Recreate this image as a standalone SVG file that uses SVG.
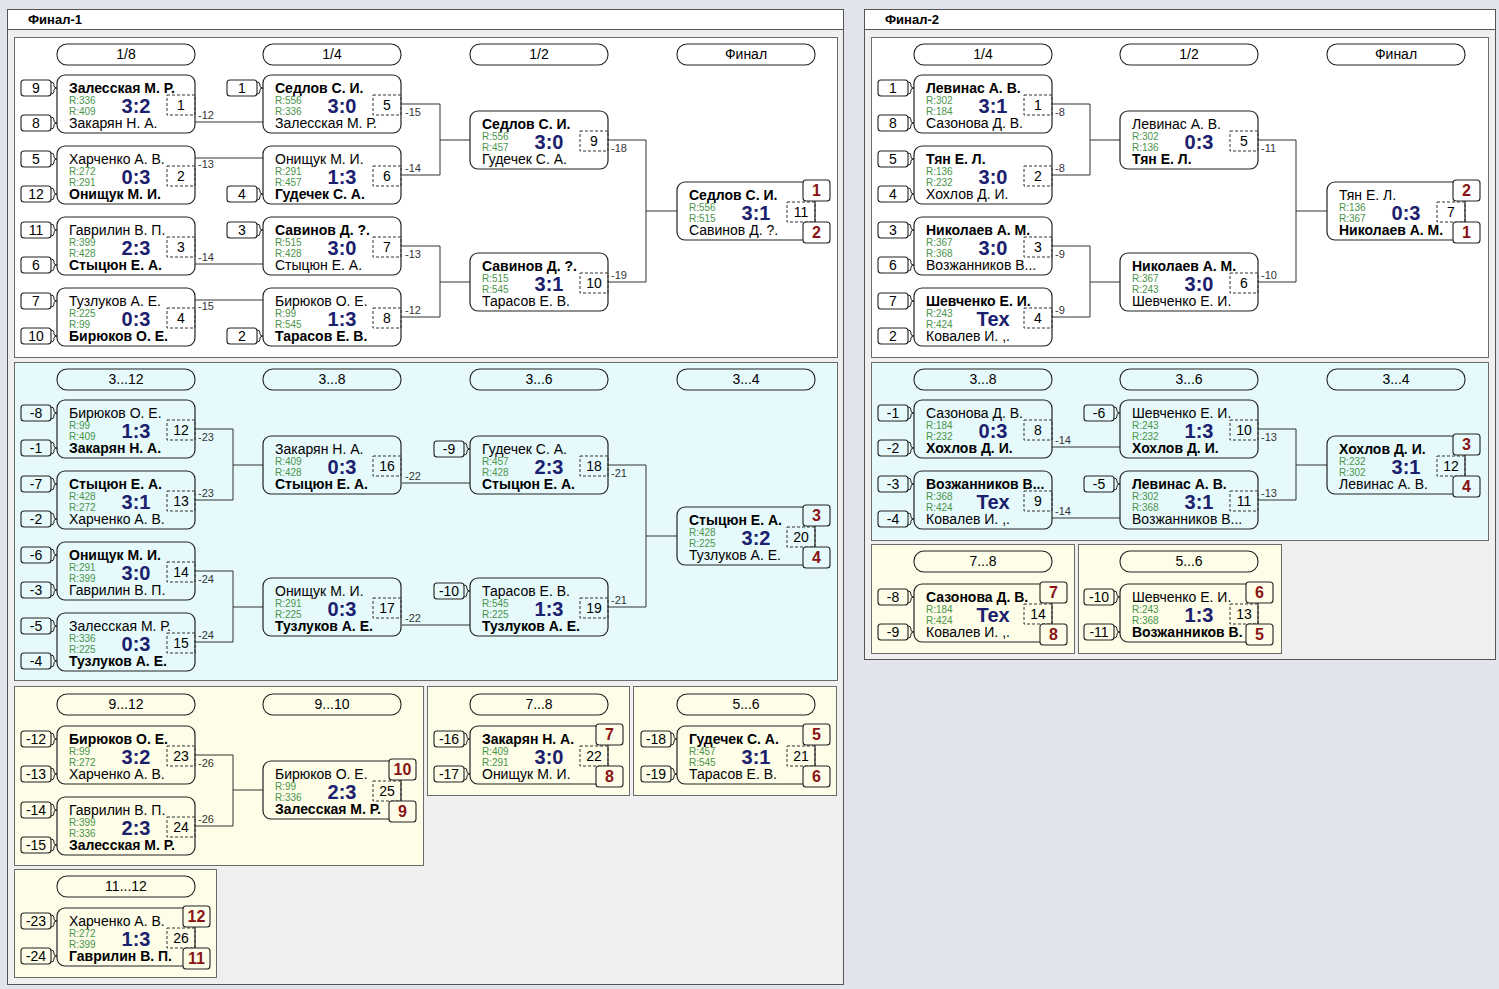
<svg xmlns="http://www.w3.org/2000/svg" width="1499" height="989" viewBox="0 0 1499 989">
<style>
text{font-family:"Liberation Sans",Arial,sans-serif}
.pan{fill:#efefef;stroke:#555;stroke-width:1}
.tb{fill:#fff;stroke:#555;stroke-width:1}
.tt{font-size:13px;font-weight:bold;fill:#000}
.sw{fill:#fff;stroke:#6b6b6b;stroke-width:1}
.sc{fill:#e6fafc;stroke:#6b6b6b;stroke-width:1}
.sy{fill:#fdfde8;stroke:#6b6b6b;stroke-width:1}
.hd{fill:none;stroke:#222;stroke-width:1.1}
.ht{font-size:14px;fill:#000;text-anchor:middle}
.mb{fill:none;stroke:#222;stroke-width:1.2}
.ds{fill:none;stroke:#333;stroke-width:1;stroke-dasharray:3 2}
.sb{fill:none;stroke:#222;stroke-width:1.1}
.br{fill:none;stroke:#222;stroke-width:1}
.a{font-size:14px;fill:#000}
.b{font-size:14px;font-weight:bold;fill:#000}
.r{font-size:10px;fill:#4a944a}
.s{font-size:20px;font-weight:bold;fill:#1b206e;text-anchor:middle}
.n{font-size:14px;fill:#000;text-anchor:middle}
.pw{fill:#fff;stroke:#222;stroke-width:1.1}
.pc{fill:#e6fafc;stroke:#222;stroke-width:1.1}
.py{fill:#fdfde8;stroke:#222;stroke-width:1.1}
.pl{font-size:16px;font-weight:bold;fill:#8a1414;text-anchor:middle}
.ln{fill:none;stroke:#333;stroke-width:1}
.lb{font-size:11px;fill:#333}
</style>
<defs>
<path id="brT" class="br" d="M-6,7 q3,0 3,3 v1 q0,2 3,2 q-3,0 -3,2 v1 q0,3 -3,3"/>
<path id="brB" class="br" d="M-6,42 q3,0 3,3 v1 q0,2 3,2 q-3,0 -3,2 v1 q0,3 -3,3"/>
<rect id="sbT" class="sb" x="-36" y="5" width="30" height="16" rx="3"/>
<rect id="sbB" class="sb" x="-36" y="40" width="30" height="16" rx="3"/>
<rect id="box" class="mb" width="138" height="58" rx="8"/>
<rect id="dsb" class="ds" x="110" y="20" width="28" height="20"/>
</defs>
<rect width="1499" height="989" fill="#e1e4ea"/>

<g id="panel1">
<rect class="pan" x="7.5" y="9.5" width="836" height="975"/>
<rect class="tb" x="7.5" y="9.5" width="836" height="20"/>
<text class="tt" x="28" y="24">Финал-1</text>
<rect class="sw" x="14.5" y="37.5" width="823" height="320"/>
<rect class="sc" x="14.5" y="362.5" width="823" height="318"/>
<rect class="sy" x="14.5" y="686.5" width="409" height="179"/>
<rect class="sy" x="427.5" y="686.5" width="202" height="109"/>
<rect class="sy" x="633.5" y="686.5" width="203" height="109"/>
<rect class="sy" x="14.5" y="869.5" width="202" height="108"/>
</g>
<g id="panel2">
<rect class="pan" x="864.5" y="9.5" width="631" height="650"/>
<rect class="tb" x="864.5" y="9.5" width="631" height="20"/>
<text class="tt" x="885" y="24">Финал-2</text>
<rect class="sw" x="871.5" y="37.5" width="617" height="320"/>
<rect class="sc" x="871.5" y="362.5" width="617" height="178"/>
<rect class="sy" x="871.5" y="544.5" width="203" height="109"/>
<rect class="sy" x="1078.5" y="544.5" width="203" height="109"/>
</g>

<g id="headers">
<rect class="hd" x="57" y="44" width="138" height="21" rx="10"/><text class="ht" x="126" y="59">1/8</text>
<rect class="hd" x="263" y="44" width="138" height="21" rx="10"/><text class="ht" x="332" y="59">1/4</text>
<rect class="hd" x="470" y="44" width="138" height="21" rx="10"/><text class="ht" x="539" y="59">1/2</text>
<rect class="hd" x="677" y="44" width="138" height="21" rx="10"/><text class="ht" x="746" y="59">Финал</text>
<rect class="hd" x="57" y="369" width="138" height="21" rx="10"/><text class="ht" x="126" y="384">3...12</text>
<rect class="hd" x="263" y="369" width="138" height="21" rx="10"/><text class="ht" x="332" y="384">3...8</text>
<rect class="hd" x="470" y="369" width="138" height="21" rx="10"/><text class="ht" x="539" y="384">3...6</text>
<rect class="hd" x="677" y="369" width="138" height="21" rx="10"/><text class="ht" x="746" y="384">3...4</text>
<rect class="hd" x="57" y="694" width="138" height="21" rx="10"/><text class="ht" x="126" y="709">9...12</text>
<rect class="hd" x="263" y="694" width="138" height="21" rx="10"/><text class="ht" x="332" y="709">9...10</text>
<rect class="hd" x="470" y="694" width="138" height="21" rx="10"/><text class="ht" x="539" y="709">7...8</text>
<rect class="hd" x="677" y="694" width="138" height="21" rx="10"/><text class="ht" x="746" y="709">5...6</text>
<rect class="hd" x="57" y="876" width="138" height="21" rx="10"/><text class="ht" x="126" y="891">11...12</text>
<rect class="hd" x="914" y="44" width="138" height="21" rx="10"/><text class="ht" x="983" y="59">1/4</text>
<rect class="hd" x="1120" y="44" width="138" height="21" rx="10"/><text class="ht" x="1189" y="59">1/2</text>
<rect class="hd" x="1327" y="44" width="138" height="21" rx="10"/><text class="ht" x="1396" y="59">Финал</text>
<rect class="hd" x="914" y="369" width="138" height="21" rx="10"/><text class="ht" x="983" y="384">3...8</text>
<rect class="hd" x="1120" y="369" width="138" height="21" rx="10"/><text class="ht" x="1189" y="384">3...6</text>
<rect class="hd" x="1327" y="369" width="138" height="21" rx="10"/><text class="ht" x="1396" y="384">3...4</text>
<rect class="hd" x="914" y="551" width="138" height="21" rx="10"/><text class="ht" x="983" y="566">7...8</text>
<rect class="hd" x="1120" y="551" width="138" height="21" rx="10"/><text class="ht" x="1189" y="566">5...6</text>
</g>

<g id="connectors">
<path class="ln" d="M195,122H263M195,158H263M195,264H263M195,300H263"/>
<path class="ln" d="M402,104H440V175H402M440,140H470M402,246H440V317H402M440,282H470M608,140H646V282H608M646,211H677"/>
<path class="ln" d="M195,429H233V500H195M233,465H263M195,571H233V642H195M233,607H263M402,483H470M402,625H470M608,465H646V607H608M646,536H677"/>
<path class="ln" d="M195,755H233V826H195M233,790H263"/>
<path class="ln" d="M1052,104H1090V175H1052M1090,140H1120M1052,246H1090V317H1052M1090,282H1120M1258,140H1296V282H1258M1296,211H1327"/>
<path class="ln" d="M1052,447H1120M1052,518H1120M1258,429H1296V500H1258M1296,465H1327"/>
<text class="lb" x="198" y="119">-12</text>
<text class="lb" x="198" y="168">-13</text>
<text class="lb" x="198" y="261">-14</text>
<text class="lb" x="198" y="310">-15</text>
<text class="lb" x="405" y="116">-15</text>
<text class="lb" x="405" y="172">-14</text>
<text class="lb" x="405" y="258">-13</text>
<text class="lb" x="405" y="314">-12</text>
<text class="lb" x="611" y="152">-18</text>
<text class="lb" x="611" y="279">-19</text>
<text class="lb" x="198" y="441">-23</text>
<text class="lb" x="198" y="497">-23</text>
<text class="lb" x="198" y="583">-24</text>
<text class="lb" x="198" y="639">-24</text>
<text class="lb" x="405" y="480">-22</text>
<text class="lb" x="405" y="622">-22</text>
<text class="lb" x="611" y="477">-21</text>
<text class="lb" x="611" y="604">-21</text>
<text class="lb" x="198" y="767">-26</text>
<text class="lb" x="198" y="823">-26</text>
<text class="lb" x="1055" y="116">-8</text>
<text class="lb" x="1055" y="172">-8</text>
<text class="lb" x="1055" y="258">-9</text>
<text class="lb" x="1055" y="314">-9</text>
<text class="lb" x="1261" y="152">-11</text>
<text class="lb" x="1261" y="279">-10</text>
<text class="lb" x="1055" y="444">-14</text>
<text class="lb" x="1055" y="515">-14</text>
<text class="lb" x="1261" y="441">-13</text>
<text class="lb" x="1261" y="497">-13</text>
</g>

<g id="f1-m1" transform="translate(57,75)"><use href="#sbT"/><text class="n" x="-21" y="18">9</text><use href="#brT"/><use href="#sbB"/><text class="n" x="-21" y="53">8</text><use href="#brB"/><use href="#box"/><use href="#dsb"/><text class="b" x="12" y="18">Залесская М. Р.</text><text class="r" x="12" y="29">R:336</text><text class="r" x="12" y="40">R:409</text><text class="s" x="79" y="38">3:2</text><text class="n" x="124" y="35">1</text><text class="a" x="12" y="53">Закарян Н. А.</text></g>
<g id="f1-m2" transform="translate(57,146)"><use href="#sbT"/><text class="n" x="-21" y="18">5</text><use href="#brT"/><use href="#sbB"/><text class="n" x="-21" y="53">12</text><use href="#brB"/><use href="#box"/><use href="#dsb"/><text class="a" x="12" y="18">Харченко А. В.</text><text class="r" x="12" y="29">R:272</text><text class="r" x="12" y="40">R:291</text><text class="s" x="79" y="38">0:3</text><text class="n" x="124" y="35">2</text><text class="b" x="12" y="53">Онищук М. И.</text></g>
<g id="f1-m3" transform="translate(57,217)"><use href="#sbT"/><text class="n" x="-21" y="18">11</text><use href="#brT"/><use href="#sbB"/><text class="n" x="-21" y="53">6</text><use href="#brB"/><use href="#box"/><use href="#dsb"/><text class="a" x="12" y="18">Гаврилин В. П.</text><text class="r" x="12" y="29">R:399</text><text class="r" x="12" y="40">R:428</text><text class="s" x="79" y="38">2:3</text><text class="n" x="124" y="35">3</text><text class="b" x="12" y="53">Стыцюн Е. А.</text></g>
<g id="f1-m4" transform="translate(57,288)"><use href="#sbT"/><text class="n" x="-21" y="18">7</text><use href="#brT"/><use href="#sbB"/><text class="n" x="-21" y="53">10</text><use href="#brB"/><use href="#box"/><use href="#dsb"/><text class="a" x="12" y="18">Тузлуков А. Е.</text><text class="r" x="12" y="29">R:225</text><text class="r" x="12" y="40">R:99</text><text class="s" x="79" y="38">0:3</text><text class="n" x="124" y="35">4</text><text class="b" x="12" y="53">Бирюков О. Е.</text></g>
<g id="f1-m5" transform="translate(263,75)"><use href="#sbT"/><text class="n" x="-21" y="18">1</text><use href="#brT"/><use href="#box"/><use href="#dsb"/><text class="b" x="12" y="18">Седлов С. И.</text><text class="r" x="12" y="29">R:556</text><text class="r" x="12" y="40">R:336</text><text class="s" x="79" y="38">3:0</text><text class="n" x="124" y="35">5</text><text class="a" x="12" y="53">Залесская М. Р.</text></g>
<g id="f1-m6" transform="translate(263,146)"><use href="#sbB"/><text class="n" x="-21" y="53">4</text><use href="#brB"/><use href="#box"/><use href="#dsb"/><text class="a" x="12" y="18">Онищук М. И.</text><text class="r" x="12" y="29">R:291</text><text class="r" x="12" y="40">R:457</text><text class="s" x="79" y="38">1:3</text><text class="n" x="124" y="35">6</text><text class="b" x="12" y="53">Гудечек С. А.</text></g>
<g id="f1-m7" transform="translate(263,217)"><use href="#sbT"/><text class="n" x="-21" y="18">3</text><use href="#brT"/><use href="#box"/><use href="#dsb"/><text class="b" x="12" y="18">Савинов Д. ?.</text><text class="r" x="12" y="29">R:515</text><text class="r" x="12" y="40">R:428</text><text class="s" x="79" y="38">3:0</text><text class="n" x="124" y="35">7</text><text class="a" x="12" y="53">Стыцюн Е. А.</text></g>
<g id="f1-m8" transform="translate(263,288)"><use href="#sbB"/><text class="n" x="-21" y="53">2</text><use href="#brB"/><use href="#box"/><use href="#dsb"/><text class="a" x="12" y="18">Бирюков О. Е.</text><text class="r" x="12" y="29">R:99</text><text class="r" x="12" y="40">R:545</text><text class="s" x="79" y="38">1:3</text><text class="n" x="124" y="35">8</text><text class="b" x="12" y="53">Тарасов Е. В.</text></g>
<g id="f1-m9" transform="translate(470,111)"><use href="#box"/><use href="#dsb"/><text class="b" x="12" y="18">Седлов С. И.</text><text class="r" x="12" y="29">R:556</text><text class="r" x="12" y="40">R:457</text><text class="s" x="79" y="38">3:0</text><text class="n" x="124" y="35">9</text><text class="a" x="12" y="53">Гудечек С. А.</text></g>
<g id="f1-m10" transform="translate(470,253)"><use href="#box"/><use href="#dsb"/><text class="b" x="12" y="18">Савинов Д. ?.</text><text class="r" x="12" y="29">R:515</text><text class="r" x="12" y="40">R:545</text><text class="s" x="79" y="38">3:1</text><text class="n" x="124" y="35">10</text><text class="a" x="12" y="53">Тарасов Е. В.</text></g>
<g id="f1-m11" transform="translate(677,182)"><use href="#box"/><use href="#dsb"/><text class="b" x="12" y="18">Седлов С. И.</text><text class="r" x="12" y="29">R:556</text><text class="r" x="12" y="40">R:515</text><text class="s" x="79" y="38">3:1</text><text class="n" x="124" y="35">11</text><text class="a" x="12" y="53">Савинов Д. ?.</text><rect class="pw" x="126" y="-2" width="27" height="21" rx="3"/><text class="pl" x="139.5" y="14">1</text><rect class="pw" x="126" y="40" width="27" height="21" rx="3"/><text class="pl" x="139.5" y="56">2</text></g>

<g id="f1-m12" transform="translate(57,400)"><use href="#sbT"/><text class="n" x="-21" y="18">-8</text><use href="#brT"/><use href="#sbB"/><text class="n" x="-21" y="53">-1</text><use href="#brB"/><use href="#box"/><use href="#dsb"/><text class="a" x="12" y="18">Бирюков О. Е.</text><text class="r" x="12" y="29">R:99</text><text class="r" x="12" y="40">R:409</text><text class="s" x="79" y="38">1:3</text><text class="n" x="124" y="35">12</text><text class="b" x="12" y="53">Закарян Н. А.</text></g>
<g id="f1-m13" transform="translate(57,471)"><use href="#sbT"/><text class="n" x="-21" y="18">-7</text><use href="#brT"/><use href="#sbB"/><text class="n" x="-21" y="53">-2</text><use href="#brB"/><use href="#box"/><use href="#dsb"/><text class="b" x="12" y="18">Стыцюн Е. А.</text><text class="r" x="12" y="29">R:428</text><text class="r" x="12" y="40">R:272</text><text class="s" x="79" y="38">3:1</text><text class="n" x="124" y="35">13</text><text class="a" x="12" y="53">Харченко А. В.</text></g>
<g id="f1-m14" transform="translate(57,542)"><use href="#sbT"/><text class="n" x="-21" y="18">-6</text><use href="#brT"/><use href="#sbB"/><text class="n" x="-21" y="53">-3</text><use href="#brB"/><use href="#box"/><use href="#dsb"/><text class="b" x="12" y="18">Онищук М. И.</text><text class="r" x="12" y="29">R:291</text><text class="r" x="12" y="40">R:399</text><text class="s" x="79" y="38">3:0</text><text class="n" x="124" y="35">14</text><text class="a" x="12" y="53">Гаврилин В. П.</text></g>
<g id="f1-m15" transform="translate(57,613)"><use href="#sbT"/><text class="n" x="-21" y="18">-5</text><use href="#brT"/><use href="#sbB"/><text class="n" x="-21" y="53">-4</text><use href="#brB"/><use href="#box"/><use href="#dsb"/><text class="a" x="12" y="18">Залесская М. Р.</text><text class="r" x="12" y="29">R:336</text><text class="r" x="12" y="40">R:225</text><text class="s" x="79" y="38">0:3</text><text class="n" x="124" y="35">15</text><text class="b" x="12" y="53">Тузлуков А. Е.</text></g>
<g id="f1-m16" transform="translate(263,436)"><use href="#box"/><use href="#dsb"/><text class="a" x="12" y="18">Закарян Н. А.</text><text class="r" x="12" y="29">R:409</text><text class="r" x="12" y="40">R:428</text><text class="s" x="79" y="38">0:3</text><text class="n" x="124" y="35">16</text><text class="b" x="12" y="53">Стыцюн Е. А.</text></g>
<g id="f1-m17" transform="translate(263,578)"><use href="#box"/><use href="#dsb"/><text class="a" x="12" y="18">Онищук М. И.</text><text class="r" x="12" y="29">R:291</text><text class="r" x="12" y="40">R:225</text><text class="s" x="79" y="38">0:3</text><text class="n" x="124" y="35">17</text><text class="b" x="12" y="53">Тузлуков А. Е.</text></g>
<g id="f1-m18" transform="translate(470,436)"><use href="#sbT"/><text class="n" x="-21" y="18">-9</text><use href="#brT"/><use href="#box"/><use href="#dsb"/><text class="a" x="12" y="18">Гудечек С. А.</text><text class="r" x="12" y="29">R:457</text><text class="r" x="12" y="40">R:428</text><text class="s" x="79" y="38">2:3</text><text class="n" x="124" y="35">18</text><text class="b" x="12" y="53">Стыцюн Е. А.</text></g>
<g id="f1-m19" transform="translate(470,578)"><use href="#sbT"/><text class="n" x="-21" y="18">-10</text><use href="#brT"/><use href="#box"/><use href="#dsb"/><text class="a" x="12" y="18">Тарасов Е. В.</text><text class="r" x="12" y="29">R:545</text><text class="r" x="12" y="40">R:225</text><text class="s" x="79" y="38">1:3</text><text class="n" x="124" y="35">19</text><text class="b" x="12" y="53">Тузлуков А. Е.</text></g>
<g id="f1-m20" transform="translate(677,507)"><use href="#box"/><use href="#dsb"/><text class="b" x="12" y="18">Стыцюн Е. А.</text><text class="r" x="12" y="29">R:428</text><text class="r" x="12" y="40">R:225</text><text class="s" x="79" y="38">3:2</text><text class="n" x="124" y="35">20</text><text class="a" x="12" y="53">Тузлуков А. Е.</text><rect class="pc" x="126" y="-2" width="27" height="21" rx="3"/><text class="pl" x="139.5" y="14">3</text><rect class="pc" x="126" y="40" width="27" height="21" rx="3"/><text class="pl" x="139.5" y="56">4</text></g>

<g id="f1-m23" transform="translate(57,726)"><use href="#sbT"/><text class="n" x="-21" y="18">-12</text><use href="#brT"/><use href="#sbB"/><text class="n" x="-21" y="53">-13</text><use href="#brB"/><use href="#box"/><use href="#dsb"/><text class="b" x="12" y="18">Бирюков О. Е.</text><text class="r" x="12" y="29">R:99</text><text class="r" x="12" y="40">R:272</text><text class="s" x="79" y="38">3:2</text><text class="n" x="124" y="35">23</text><text class="a" x="12" y="53">Харченко А. В.</text></g>
<g id="f1-m24" transform="translate(57,797)"><use href="#sbT"/><text class="n" x="-21" y="18">-14</text><use href="#brT"/><use href="#sbB"/><text class="n" x="-21" y="53">-15</text><use href="#brB"/><use href="#box"/><use href="#dsb"/><text class="a" x="12" y="18">Гаврилин В. П.</text><text class="r" x="12" y="29">R:399</text><text class="r" x="12" y="40">R:336</text><text class="s" x="79" y="38">2:3</text><text class="n" x="124" y="35">24</text><text class="b" x="12" y="53">Залесская М. Р.</text></g>
<g id="f1-m25" transform="translate(263,761)"><use href="#box"/><use href="#dsb"/><text class="a" x="12" y="18">Бирюков О. Е.</text><text class="r" x="12" y="29">R:99</text><text class="r" x="12" y="40">R:336</text><text class="s" x="79" y="38">2:3</text><text class="n" x="124" y="35">25</text><text class="b" x="12" y="53">Залесская М. Р.</text><rect class="py" x="126" y="-2" width="27" height="21" rx="3"/><text class="pl" x="139.5" y="14">10</text><rect class="py" x="126" y="40" width="27" height="21" rx="3"/><text class="pl" x="139.5" y="56">9</text></g>

<g id="f1-m22" transform="translate(470,726)"><use href="#sbT"/><text class="n" x="-21" y="18">-16</text><use href="#brT"/><use href="#sbB"/><text class="n" x="-21" y="53">-17</text><use href="#brB"/><use href="#box"/><use href="#dsb"/><text class="b" x="12" y="18">Закарян Н. А.</text><text class="r" x="12" y="29">R:409</text><text class="r" x="12" y="40">R:291</text><text class="s" x="79" y="38">3:0</text><text class="n" x="124" y="35">22</text><text class="a" x="12" y="53">Онищук М. И.</text><rect class="py" x="126" y="-2" width="27" height="21" rx="3"/><text class="pl" x="139.5" y="14">7</text><rect class="py" x="126" y="40" width="27" height="21" rx="3"/><text class="pl" x="139.5" y="56">8</text></g>
<g id="f1-m21" transform="translate(677,726)"><use href="#sbT"/><text class="n" x="-21" y="18">-18</text><use href="#brT"/><use href="#sbB"/><text class="n" x="-21" y="53">-19</text><use href="#brB"/><use href="#box"/><use href="#dsb"/><text class="b" x="12" y="18">Гудечек С. А.</text><text class="r" x="12" y="29">R:457</text><text class="r" x="12" y="40">R:545</text><text class="s" x="79" y="38">3:1</text><text class="n" x="124" y="35">21</text><text class="a" x="12" y="53">Тарасов Е. В.</text><rect class="py" x="126" y="-2" width="27" height="21" rx="3"/><text class="pl" x="139.5" y="14">5</text><rect class="py" x="126" y="40" width="27" height="21" rx="3"/><text class="pl" x="139.5" y="56">6</text></g>
<g id="f1-m26" transform="translate(57,908)"><use href="#sbT"/><text class="n" x="-21" y="18">-23</text><use href="#brT"/><use href="#sbB"/><text class="n" x="-21" y="53">-24</text><use href="#brB"/><use href="#box"/><use href="#dsb"/><text class="a" x="12" y="18">Харченко А. В.</text><text class="r" x="12" y="29">R:272</text><text class="r" x="12" y="40">R:399</text><text class="s" x="79" y="38">1:3</text><text class="n" x="124" y="35">26</text><text class="b" x="12" y="53">Гаврилин В. П.</text><rect class="py" x="126" y="-2" width="27" height="21" rx="3"/><text class="pl" x="139.5" y="14">12</text><rect class="py" x="126" y="40" width="27" height="21" rx="3"/><text class="pl" x="139.5" y="56">11</text></g>

<g id="f2-m1" transform="translate(914,75)"><use href="#sbT"/><text class="n" x="-21" y="18">1</text><use href="#brT"/><use href="#sbB"/><text class="n" x="-21" y="53">8</text><use href="#brB"/><use href="#box"/><use href="#dsb"/><text class="b" x="12" y="18">Левинас А. В.</text><text class="r" x="12" y="29">R:302</text><text class="r" x="12" y="40">R:184</text><text class="s" x="79" y="38">3:1</text><text class="n" x="124" y="35">1</text><text class="a" x="12" y="53">Сазонова Д. В.</text></g>
<g id="f2-m2" transform="translate(914,146)"><use href="#sbT"/><text class="n" x="-21" y="18">5</text><use href="#brT"/><use href="#sbB"/><text class="n" x="-21" y="53">4</text><use href="#brB"/><use href="#box"/><use href="#dsb"/><text class="b" x="12" y="18">Тян Е. Л.</text><text class="r" x="12" y="29">R:136</text><text class="r" x="12" y="40">R:232</text><text class="s" x="79" y="38">3:0</text><text class="n" x="124" y="35">2</text><text class="a" x="12" y="53">Хохлов Д. И.</text></g>
<g id="f2-m3" transform="translate(914,217)"><use href="#sbT"/><text class="n" x="-21" y="18">3</text><use href="#brT"/><use href="#sbB"/><text class="n" x="-21" y="53">6</text><use href="#brB"/><use href="#box"/><use href="#dsb"/><text class="b" x="12" y="18">Николаев А. М.</text><text class="r" x="12" y="29">R:367</text><text class="r" x="12" y="40">R:368</text><text class="s" x="79" y="38">3:0</text><text class="n" x="124" y="35">3</text><text class="a" x="12" y="53">Возжанников В...</text></g>
<g id="f2-m4" transform="translate(914,288)"><use href="#sbT"/><text class="n" x="-21" y="18">7</text><use href="#brT"/><use href="#sbB"/><text class="n" x="-21" y="53">2</text><use href="#brB"/><use href="#box"/><use href="#dsb"/><text class="b" x="12" y="18">Шевченко Е. И.</text><text class="r" x="12" y="29">R:243</text><text class="r" x="12" y="40">R:424</text><text class="s" x="79" y="38">Тех</text><text class="n" x="124" y="35">4</text><text class="a" x="12" y="53">Ковалев И. ,.</text></g>
<g id="f2-m5" transform="translate(1120,111)"><use href="#box"/><use href="#dsb"/><text class="a" x="12" y="18">Левинас А. В.</text><text class="r" x="12" y="29">R:302</text><text class="r" x="12" y="40">R:136</text><text class="s" x="79" y="38">0:3</text><text class="n" x="124" y="35">5</text><text class="b" x="12" y="53">Тян Е. Л.</text></g>
<g id="f2-m6" transform="translate(1120,253)"><use href="#box"/><use href="#dsb"/><text class="b" x="12" y="18">Николаев А. М.</text><text class="r" x="12" y="29">R:367</text><text class="r" x="12" y="40">R:243</text><text class="s" x="79" y="38">3:0</text><text class="n" x="124" y="35">6</text><text class="a" x="12" y="53">Шевченко Е. И.</text></g>
<g id="f2-m7" transform="translate(1327,182)"><use href="#box"/><use href="#dsb"/><text class="a" x="12" y="18">Тян Е. Л.</text><text class="r" x="12" y="29">R:136</text><text class="r" x="12" y="40">R:367</text><text class="s" x="79" y="38">0:3</text><text class="n" x="124" y="35">7</text><text class="b" x="12" y="53">Николаев А. М.</text><rect class="pw" x="126" y="-2" width="27" height="21" rx="3"/><text class="pl" x="139.5" y="14">2</text><rect class="pw" x="126" y="40" width="27" height="21" rx="3"/><text class="pl" x="139.5" y="56">1</text></g>

<g id="f2-m8" transform="translate(914,400)"><use href="#sbT"/><text class="n" x="-21" y="18">-1</text><use href="#brT"/><use href="#sbB"/><text class="n" x="-21" y="53">-2</text><use href="#brB"/><use href="#box"/><use href="#dsb"/><text class="a" x="12" y="18">Сазонова Д. В.</text><text class="r" x="12" y="29">R:184</text><text class="r" x="12" y="40">R:232</text><text class="s" x="79" y="38">0:3</text><text class="n" x="124" y="35">8</text><text class="b" x="12" y="53">Хохлов Д. И.</text></g>
<g id="f2-m9" transform="translate(914,471)"><use href="#sbT"/><text class="n" x="-21" y="18">-3</text><use href="#brT"/><use href="#sbB"/><text class="n" x="-21" y="53">-4</text><use href="#brB"/><use href="#box"/><use href="#dsb"/><text class="b" x="12" y="18">Возжанников В...</text><text class="r" x="12" y="29">R:368</text><text class="r" x="12" y="40">R:424</text><text class="s" x="79" y="38">Тех</text><text class="n" x="124" y="35">9</text><text class="a" x="12" y="53">Ковалев И. ,.</text></g>
<g id="f2-m10" transform="translate(1120,400)"><use href="#sbT"/><text class="n" x="-21" y="18">-6</text><use href="#brT"/><use href="#box"/><use href="#dsb"/><text class="a" x="12" y="18">Шевченко Е. И.</text><text class="r" x="12" y="29">R:243</text><text class="r" x="12" y="40">R:232</text><text class="s" x="79" y="38">1:3</text><text class="n" x="124" y="35">10</text><text class="b" x="12" y="53">Хохлов Д. И.</text></g>
<g id="f2-m11" transform="translate(1120,471)"><use href="#sbT"/><text class="n" x="-21" y="18">-5</text><use href="#brT"/><use href="#box"/><use href="#dsb"/><text class="b" x="12" y="18">Левинас А. В.</text><text class="r" x="12" y="29">R:302</text><text class="r" x="12" y="40">R:368</text><text class="s" x="79" y="38">3:1</text><text class="n" x="124" y="35">11</text><text class="a" x="12" y="53">Возжанников В...</text></g>
<g id="f2-m12" transform="translate(1327,436)"><use href="#box"/><use href="#dsb"/><text class="b" x="12" y="18">Хохлов Д. И.</text><text class="r" x="12" y="29">R:232</text><text class="r" x="12" y="40">R:302</text><text class="s" x="79" y="38">3:1</text><text class="n" x="124" y="35">12</text><text class="a" x="12" y="53">Левинас А. В.</text><rect class="pc" x="126" y="-2" width="27" height="21" rx="3"/><text class="pl" x="139.5" y="14">3</text><rect class="pc" x="126" y="40" width="27" height="21" rx="3"/><text class="pl" x="139.5" y="56">4</text></g>

<g id="f2-m14" transform="translate(914,584)"><use href="#sbT"/><text class="n" x="-21" y="18">-8</text><use href="#brT"/><use href="#sbB"/><text class="n" x="-21" y="53">-9</text><use href="#brB"/><use href="#box"/><use href="#dsb"/><text class="b" x="12" y="18">Сазонова Д. В.</text><text class="r" x="12" y="29">R:184</text><text class="r" x="12" y="40">R:424</text><text class="s" x="79" y="38">Тех</text><text class="n" x="124" y="35">14</text><text class="a" x="12" y="53">Ковалев И. ,.</text><rect class="py" x="126" y="-2" width="27" height="21" rx="3"/><text class="pl" x="139.5" y="14">7</text><rect class="py" x="126" y="40" width="27" height="21" rx="3"/><text class="pl" x="139.5" y="56">8</text></g>
<g id="f2-m13" transform="translate(1120,584)"><use href="#sbT"/><text class="n" x="-21" y="18">-10</text><use href="#brT"/><use href="#sbB"/><text class="n" x="-21" y="53">-11</text><use href="#brB"/><use href="#box"/><use href="#dsb"/><text class="a" x="12" y="18">Шевченко Е. И.</text><text class="r" x="12" y="29">R:243</text><text class="r" x="12" y="40">R:368</text><text class="s" x="79" y="38">1:3</text><text class="n" x="124" y="35">13</text><text class="b" x="12" y="53">Возжанников В.</text><rect class="py" x="126" y="-2" width="27" height="21" rx="3"/><text class="pl" x="139.5" y="14">6</text><rect class="py" x="126" y="40" width="27" height="21" rx="3"/><text class="pl" x="139.5" y="56">5</text></g>
</svg>
